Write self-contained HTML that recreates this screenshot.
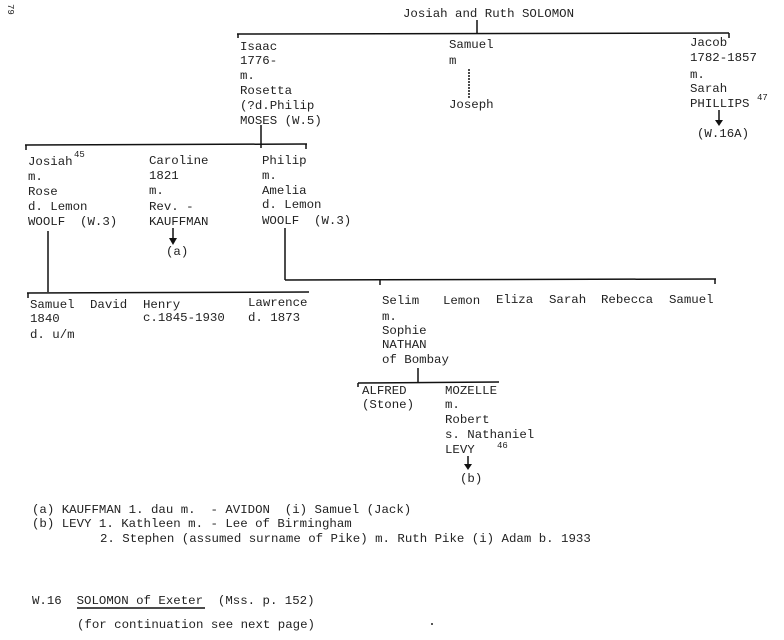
<!DOCTYPE html>
<html><head><meta charset="utf-8"><style>
html,body{margin:0;padding:0;background:#fff}
svg{display:block;position:absolute;left:0;top:0}
text{font-family:"Liberation Mono",monospace;font-size:12.4px;fill:#222;white-space:pre}
.s{font-size:9px}
line{stroke:#111;stroke-width:1.5}
</style></head><body>
<svg width="784" height="640" viewBox="0 0 784 640" xmlns="http://www.w3.org/2000/svg" xml:space="preserve">
<text x="2" y="10" class="s" transform="rotate(90 8 10)">79</text>
<text x="403" y="17">Josiah and Ruth SOLOMON</text>
<line x1="477" y1="20" x2="477" y2="34"/>
<line x1="237" y1="34" x2="729" y2="33"/>
<line x1="729" y1="33" x2="729" y2="38"/>
<line x1="238" y1="34" x2="238" y2="38"/>
<text x="240" y="50">Isaac</text>
<text x="240" y="64">1776-</text>
<text x="240" y="79">m.</text>
<text x="240" y="94">Rosetta</text>
<text x="240" y="109">(?d.Philip</text>
<text x="240" y="124">MOSES (W.5)</text>
<text x="449" y="48">Samuel</text>
<text x="449" y="64">m</text>
<line x1="469" y1="69" x2="469" y2="98" stroke-dasharray="2 1"/>
<text x="449" y="108">Joseph</text>
<text x="690" y="46">Jacob</text>
<text x="690" y="61">1782-1857</text>
<text x="690" y="78">m.</text>
<text x="690" y="92">Sarah</text>
<text x="690" y="107">PHILLIPS</text>
<text x="757" y="100" class="s">47</text>
<line x1="719" y1="110" x2="719" y2="121"/>
<polygon points="715,120 723,120 719,126" fill="#111"/>
<text x="697" y="137">(W.16A)</text>
<line x1="261" y1="125" x2="261" y2="148"/>
<line x1="25" y1="145" x2="307" y2="144"/>
<line x1="26" y1="145" x2="26" y2="150"/>
<line x1="306" y1="144" x2="306" y2="149"/>
<text x="28" y="165">Josiah</text><text x="74" y="157" class="s">45</text>
<text x="28" y="180">m.</text>
<text x="28" y="195">Rose</text>
<text x="28" y="210">d. Lemon</text>
<text x="28" y="225">WOOLF  (W.3)</text>
<text x="149" y="164">Caroline</text>
<text x="149" y="179">1821</text>
<text x="149" y="194">m.</text>
<text x="149" y="210">Rev. -</text>
<text x="149" y="225">KAUFFMAN</text>
<line x1="173" y1="228" x2="173" y2="240"/>
<polygon points="169,238 177,238 173,245" fill="#111"/>
<text x="166" y="255">(a)</text>
<text x="262" y="164">Philip</text>
<text x="262" y="179">m.</text>
<text x="262" y="194">Amelia</text>
<text x="262" y="208">d. Lemon</text>
<text x="262" y="224">WOOLF  (W.3)</text>
<line x1="48" y1="231" x2="48" y2="292"/>
<line x1="27" y1="293" x2="309" y2="292"/>
<line x1="28" y1="293" x2="28" y2="298"/>
<line x1="285" y1="228" x2="285" y2="280"/>
<line x1="285" y1="280" x2="716" y2="279"/>
<line x1="715" y1="279" x2="715" y2="284"/>
<line x1="380" y1="280" x2="380" y2="285"/>
<text x="30" y="308">Samuel</text>
<text x="90" y="308">David</text>
<text x="143" y="308">Henry</text>
<text x="248" y="306">Lawrence</text>
<text x="30" y="322">1840</text>
<text x="143" y="321">c.1845-1930</text>
<text x="248" y="321">d. 1873</text>
<text x="30" y="338">d. u/m</text>
<text x="382" y="304">Selim</text>
<text x="443" y="304">Lemon</text>
<text x="496" y="303">Eliza</text>
<text x="549" y="303">Sarah</text>
<text x="601" y="303">Rebecca</text>
<text x="669" y="303">Samuel</text>
<text x="382" y="320">m.</text>
<text x="382" y="334">Sophie</text>
<text x="382" y="348">NATHAN</text>
<text x="382" y="363">of Bombay</text>
<line x1="418" y1="368" x2="418" y2="382"/>
<line x1="358" y1="383" x2="499" y2="382"/>
<line x1="358" y1="383" x2="358" y2="387"/>
<text x="362" y="394">ALFRED</text>
<text x="362" y="408">(Stone)</text>
<text x="445" y="394">MOZELLE</text>
<text x="445" y="408">m.</text>
<text x="445" y="423">Robert</text>
<text x="445" y="438">s. Nathaniel</text>
<text x="445" y="453">LEVY</text>
<text x="497" y="448" class="s">46</text>
<line x1="468" y1="456" x2="468" y2="466"/>
<polygon points="464,464 472,464 468,470" fill="#111"/>
<text x="460" y="482">(b)</text>
<text x="32" y="513">(a) KAUFFMAN 1. dau m.  - AVIDON  (i) Samuel (Jack)</text>
<text x="32" y="527">(b) LEVY 1. Kathleen m. - Lee of Birmingham</text>
<text x="100" y="542">2. Stephen (assumed surname of Pike) m. Ruth Pike (i) Adam b. 1933</text>
<text x="32" y="604">W.16  SOLOMON of Exeter  (Mss. p. 152)</text>
<line x1="77" y1="608" x2="205" y2="608" stroke-width="1"/>
<text x="77" y="628">(for continuation see next page)</text>
<circle cx="432" cy="624" r="1" fill="#222"/>
</svg>
</body></html>
